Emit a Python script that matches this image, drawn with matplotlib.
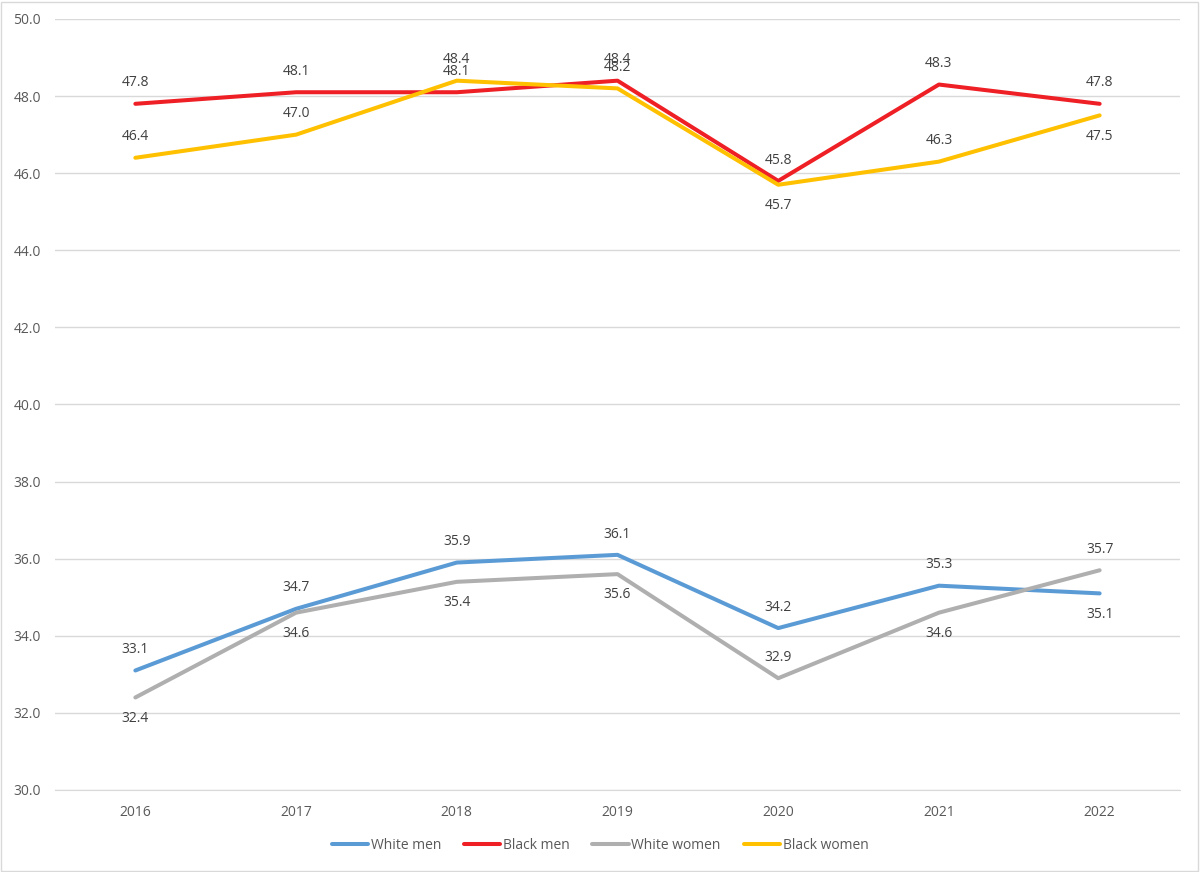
import numpy as np
import matplotlib.pyplot as plt
from matplotlib.patches import Rectangle

years = ['2016', '2017', '2018', '2019', '2020', '2021', '2022']
white_men = [33.1, 34.7, 35.9, 36.1, 34.2, 35.3, 35.1]
black_men = [47.8, 48.1, 48.1, 48.4, 45.8, 48.3, 47.8]
white_women = [32.4, 34.6, 35.4, 35.6, 32.9, 34.6, 35.7]
black_women = [46.4, 47.0, 48.4, 48.2, 45.7, 46.3, 47.5]

# label placement per point: 1 above, -1 below
wm_pos = [1, 1, 1, 1, 1, 1, -1]
bm_pos = [1, 1, 1, 1, 1, 1, 1]
ww_pos = [-1, -1, -1, -1, 1, -1, 1]
bw_pos = [1, 1, 1, 1, -1, 1, -1]

series = [
    ('White men', white_men, '#5B9BD5', wm_pos),
    ('Black men', black_men, '#EE1F25', bm_pos),
    ('White women', white_women, '#AFAFAF', ww_pos),
    ('Black women', black_women, '#FFC000', bw_pos),
]

plt.rcParams['font.family'] = ['Open Sans', 'DejaVu Sans']

fig = plt.figure(figsize=(12, 8.72), dpi=100)
ax = fig.add_axes([55 / 1200, 1 - 790 / 872, 1125 / 1200, 771 / 872])

x = np.arange(len(years))
for name, vals, col, pos in series:
    ax.plot(x, vals, color=col, lw=2.9, label=name, solid_capstyle='round')
    for xi, v, p in zip(x, vals, pos):
        ax.annotate('%.1f' % v, (xi, v), xytext=(0, 15 * p), textcoords='offset points',
                    ha='center', va='center', fontsize=10, color='#404040')

ax.set_xlim(-0.5, len(years) - 0.5)
ax.set_ylim(30, 50)
ax.set_yticks(np.arange(30, 51, 2))
ax.set_yticklabels(['%.1f' % t for t in np.arange(30, 51, 2)])
ax.set_xticks(x)
ax.set_xticklabels(years)
ax.tick_params(axis='both', length=0, labelsize=10, labelcolor='#595959')
ax.tick_params(axis='y', pad=10)
ax.tick_params(axis='x', pad=11)
ax.grid(axis='y', color='#D9D9D9', lw=1)
ax.set_axisbelow(True)
for s in ['left', 'right', 'top']:
    ax.spines[s].set_visible(False)
ax.spines['bottom'].set_color('#D9D9D9')

leg = fig.legend(loc='center', bbox_to_anchor=(0.5, 1 - 845 / 872), ncol=4, frameon=False,
                 fontsize=10, handlelength=2.6, handletextpad=0.2, columnspacing=1.65)
for t in leg.get_texts():
    t.set_color('#595959')

fig.patches.append(Rectangle((0.001, 0.001), 0.997, 0.997, transform=fig.transFigure,
                             fill=False, edgecolor='#D9D9D9', lw=1))

plt.savefig('out.png', dpi=100)
